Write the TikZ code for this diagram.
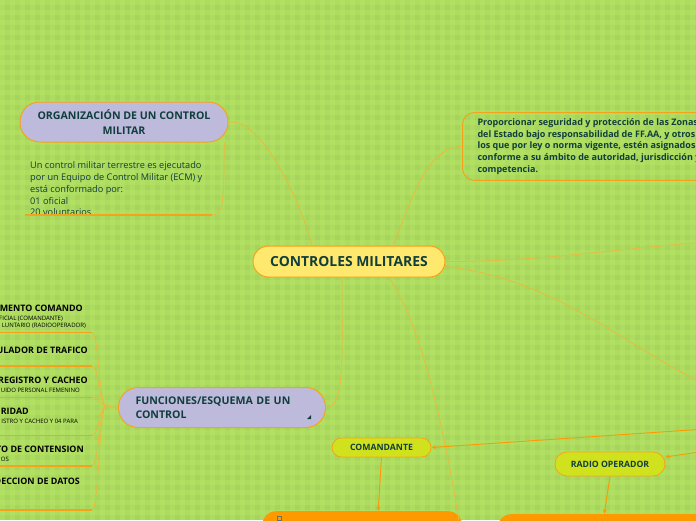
\documentclass[tikz,border=0pt]{standalone}
\usepackage{fontspec}
\setmainfont{Open Sans}
\usepackage{tikz}
\usetikzlibrary{arrows.meta, positioning}

\definecolor{bggreen}{RGB}{166,212,92}
\definecolor{bglight}{RGB}{182,230,102}
\definecolor{edgeorange}{RGB}{247,162,28}
\definecolor{linkyellow}{RGB}{238,184,58}
\definecolor{inkteal}{RGB}{16,62,60}
\definecolor{lavender}{RGB}{190,186,220}
\definecolor{sunyellow}{RGB}{255,232,110}
\definecolor{limeleaf}{RGB}{208,226,30}
\definecolor{deeporange}{RGB}{255,153,0}

\begin{document}
\begin{tikzpicture}[
    x=1pt, y=-1pt,
    mainbox/.style={
        draw=edgeorange,
        line width=1pt,
        fill=sunyellow,
        text=inkteal,
        font=\bfseries\fontsize{13.9}{16}\selectfont,
        minimum width=192pt,
        minimum height=31pt,
        rounded corners=15.5pt
    },
    topic/.style={
        draw=edgeorange,
        line width=1pt,
        fill=lavender,
        text=inkteal,
        font=\bfseries\fontsize{10.6}{14.5}\selectfont,
        minimum height=40pt,
        rounded corners=19.5pt
    },
    leaf/.style={
        draw=edgeorange,
        line width=0.8pt,
        fill=limeleaf,
        text=inkteal,
        font=\bfseries\fontsize{8.7}{10}\selectfont,
        rounded corners=10pt
    },
    task/.style={
        fill=deeporange,
        text=inkteal,
        font=\bfseries\fontsize{8.5}{11}\selectfont,
        align=left,
        minimum height=40pt,
        rounded corners=14pt
    },
    note/.style={
        text=inkteal,
        align=left,
        inner sep=0pt
    },
    headtext/.style={
        text=black,
        font=\bfseries\fontsize{8.9}{10}\selectfont,
        inner sep=0pt,
        anchor=east
    },
    subtext/.style={
        text=black,
        font=\fontsize{6}{7}\selectfont,
        inner sep=0pt,
        anchor=east
    },
    link/.style={
        linkyellow,
        line width=0.7pt
    },
    underline/.style={
        edgeorange,
        line width=1.5pt
    },
    arrow/.style={
        -{Latex[length=4pt,width=4pt]},
        deeporange,
        line width=0.9pt
    }
]

\useasboundingbox (0,0) rectangle (696,520);
\clip (0,0) rectangle (696,520);

% checkered background
\fill[bggreen] (0,0) rectangle (696,520);
\foreach \i in {0,...,69}
    \fill[bglight, opacity=0.45] (\i*10,0) rectangle ++(5,520);
\foreach \j in {0,...,51}
    \fill[bglight, opacity=0.45] (0,\j*10) rectangle ++(696,5);

% central topic
\node[mainbox] (main) at (349,261.5) {CONTROLES MILITARES};

% organization
\node[topic, minimum width=208pt, align=center] (org) at (124,122) {ORGANIZACIÓN DE UN CONTROL\\MILITAR};
\node[note, anchor=north west, font=\fontsize{9.2}{11.8}\selectfont] (orgtext) at (30,161.5)
    {Un control militar terrestre es ejecutado\\por un Equipo de Control Militar (ECM) y\\está conformado por:\\01 oficial\\20 voluntarios};
\coordinate (orgfoot) at (212,215);

% purpose
\node[draw=edgeorange, line width=1pt, rounded corners=12pt, anchor=north west,
      text=inkteal, font=\bfseries\fontsize{9}{11.7}\selectfont, align=left,
      inner xsep=15pt, inner ysep=6pt] (goal) at (462,112)
    {Proporcionar seguridad y protección de las Zonas\\del Estado bajo responsabilidad de FF.AA, y otros de\\los que por ley o norma vigente, estén asignados\\conforme a su ámbito de autoridad, jurisdicción y\\competencia.};

% functions
\node[topic, anchor=west, align=left, text width=173pt, inner xsep=17pt] (func) at (118,407.5) {FUNCIONES/ESQUEMA DE UN\\CONTROL};
\fill[inkteal] (307,419) -- (311,419) -- (311,415) -- cycle;
\coordinate (fan) at (106,406);

\node[headtext] (cmd) at (83,308) {ELEMENTO COMANDO};
\node[subtext] (cmda) at (63,319) {FICIAL (COMANDANTE)};
\node[subtext] (cmdb) at (86,326) {LUNTARIO (RADIOOPERADOR)};
\node[headtext] (traf) at (88,350) {ULADOR DE TRAFICO};
\node[headtext] (reg) at (88,380.7) {REGISTRO Y CACHEO};
\node[subtext] (rega) at (80,390) {UIDO PERSONAL FEMENINO};
\node[headtext] (seg) at (29,411.7) {SEGURIDAD};
\node[subtext] (sega) at (78,421.7) {ISTRO Y CACHEO Y 04 PARA};
\node[headtext] (cont) at (84,449) {TO DE CONTENSION};
\node[subtext] (conta) at (9,459) {OS};
\node[headtext] (data) at (80,481) {DECCION DE DATOS};

\coordinate (cmdu) at (92,332.7);
\coordinate (trafu) at (92,366);
\coordinate (regu) at (92,397.3);
\coordinate (segu) at (92,435.7);
\coordinate (contu) at (92,466);
\coordinate (datau) at (92,510);

% roles
\node[leaf, minimum width=99pt, minimum height=19pt, rounded corners=9.5pt] (cmdr) at (381.5,447.5) {COMANDANTE};
\node[leaf, minimum width=110pt, minimum height=24pt, rounded corners=12pt] (radio) at (610,464) {RADIO OPERADOR};

\node[task, anchor=north west, minimum width=200pt, text width=144pt, inner xsep=28pt, inner ysep=1.5pt] (order) at (262,511)
    {Impartir la Orden de Acción};
\draw[inkteal!70, line width=0.5pt] (277.5,516.5) rectangle (281.5,520.5);
\node[task, anchor=north west, minimum width=220pt, text width=164pt, inner xsep=28pt, inner ysep=1.5pt] (relay) at (497,514)
    {Mantendrá el enlace de comunicaciones};

% off-picture ends
\coordinate (offa) at (720,241);
\coordinate (offb) at (720,392);
\coordinate (offc) at (462,540);
\coordinate (srca) at (720,428);
\coordinate (srcb) at (720,449);

% links
\draw[link] (org.east) .. controls (262,118) and (300,200) .. ([xshift=-37pt]main.north);
\draw[link] ([xshift=-4pt]org.south east) .. controls (223,190) and (226,215) .. (orgfoot);
\draw[underline] (25,215) -- (orgfoot);
\draw[link] ([xshift=44pt]main.north) .. controls (410,205) and (425,147) .. (goal.west);
\draw[link] (main.east) .. controls (540,262) and (620,248) .. (offa);
\draw[link] ([yshift=-5pt]main.east) .. controls (560,280) and (620,345) .. (offb);
\draw[link] ([xshift=-7pt]main.south) .. controls (342,360) and (345,407) .. (func.east);
\draw[link] ([xshift=40pt]main.south) .. controls (425,330) and (448,450) .. (offc);

\draw[link] (func.west) -- (fan);
\draw[underline] (0,332.7) -- (cmdu);
\draw[underline] (0,366) -- (trafu);
\draw[underline] (0,397.3) -- (regu);
\draw[underline] (0,435.7) -- (segu);
\draw[underline] (0,466) -- (contu);
\draw[underline] (0,510) -- (datau);
\draw[link] (fan) .. controls (99,406) and (99,332.7) .. (cmdu);
\draw[link] (fan) .. controls (99,406) and (99,366) .. (trafu);
\draw[link] (fan) .. controls (99,406) and (99,397.3) .. (regu);
\draw[link] (fan) .. controls (99,406) and (99,435.7) .. (segu);
\draw[link] (fan) .. controls (99,406) and (99,466) .. (contu);
\draw[link] (fan) .. controls (99,406) and (99,510) .. (datau);

\draw[arrow] (srca) -- (cmdr.east);
\draw[arrow] (srcb) -- ([yshift=7pt]radio.east);
\draw[arrow] (cmdr.south) -- ([xshift=16pt]order.north);
\draw[arrow] (radio.south) -- ([xshift=-3pt]relay.north);

\end{tikzpicture}
\end{document}
